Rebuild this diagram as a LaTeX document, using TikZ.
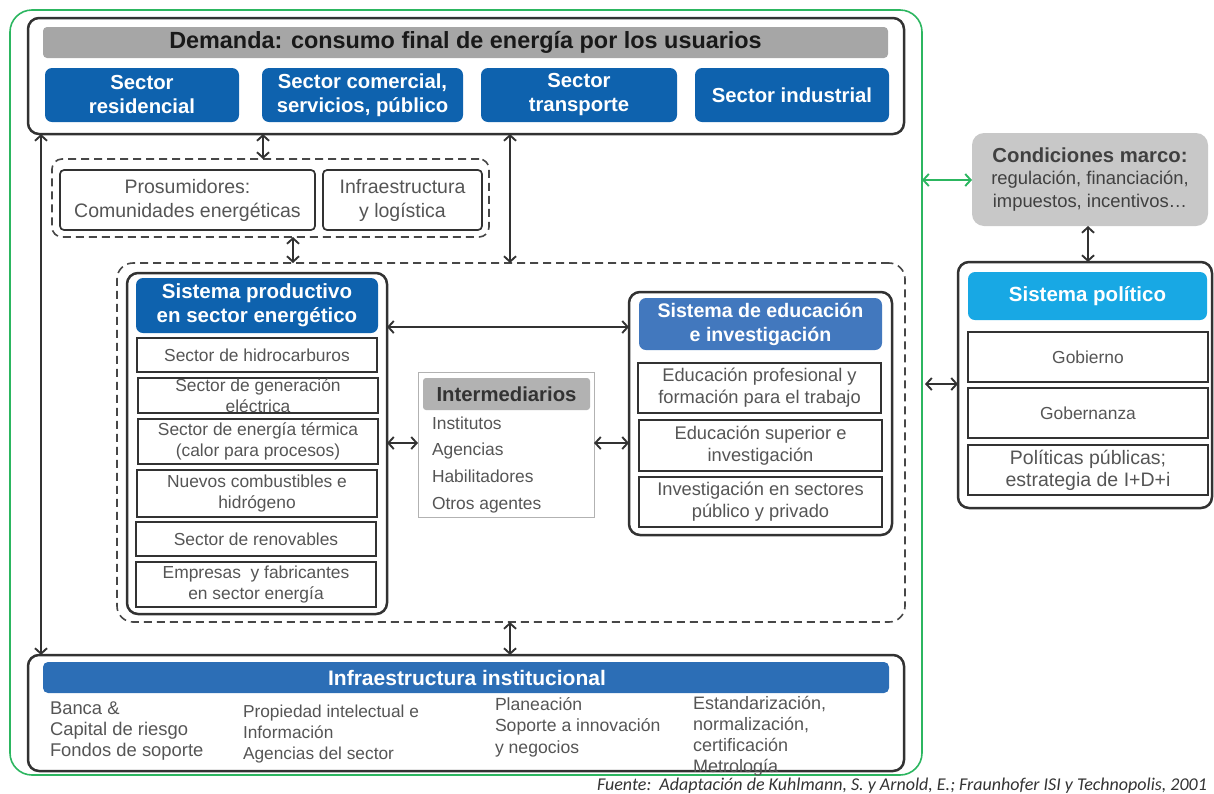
\documentclass[tikz,border=0pt]{standalone}
\usepackage{fontspec}
\setmainfont{Liberation Sans}
\newfontfamily\notefont{Carlito}
\usetikzlibrary{arrows.meta}
\definecolor{secblue}{RGB}{14,98,174}
\definecolor{eduhdr}{RGB}{66,120,190}
\definecolor{polhdr}{RGB}{24,168,228}
\definecolor{infbar}{RGB}{44,110,182}
\definecolor{barg}{RGB}{166,166,166}
\definecolor{condg}{RGB}{200,200,200}
\definecolor{interg}{RGB}{178,178,178}
\definecolor{framegreen}{RGB}{44,182,96}
\definecolor{framec}{RGB}{50,50,50}
\definecolor{itemtxt}{RGB}{85,85,85}
% node spanning the rectangle (x1,y1)-(x2,y2)
\newcommand\boxat[7]{%
  \node[#2, minimum width={(#5-#3)*1pt}, minimum height={(#6-#4)*1pt}]
    (#1) at ({(#3+#5)/2},{(#4+#6)/2}) {#7};}
\newcommand\fs[2]{\fontsize{#1}{#2}\selectfont}
\begin{document}
\begin{tikzpicture}[x=1pt,y=-1pt,
  every node/.style={inner sep=0pt, outer sep=0pt},
  frame/.style={draw=framec, line width=2.5pt, rounded corners=11pt},
  dashframe/.style={draw=framec!90, line width=1.6pt, rounded corners=16pt, dash pattern=on 8pt off 5pt},
  sector/.style={fill=secblue, rounded corners=7pt, text=white, align=center,
    font=\fs{20.3}{24}\bfseries},
  header/.style={rounded corners=7pt, text=white, align=center,
    font=\fs{20.5}{24}\bfseries},
  item/.style={draw=framec, line width=1.7pt, fill=white, text=itemtxt, align=center,
    font=\fs{17.4}{21.5}},
  plain/.style={draw=framec, line width=1.7pt, rounded corners=4pt, fill=white, text=itemtxt, align=center,
    font=\fs{19.5}{24}},
  % multi-line lists, placed by the baseline of their last line
  listtxt/.style={anchor=base west, align=left, text=itemtxt},
  arr/.style={{Straight Barb[length=5.5pt,width=12pt]}-{Straight Barb[length=5.5pt,width=12pt]},
    draw=framec, line width=1.9pt},
  garr/.style={{Straight Barb[length=5.5pt,width=12pt]}-{Straight Barb[length=5.5pt,width=12pt]},
    draw=framegreen, line width=1.9pt}]
\useasboundingbox (0,0) rectangle (1214,793);

% ---------- outer frame of the national system ----------
\boxat{system}{draw=framegreen, line width=1.6pt, rounded corners=22pt}{10}{10}{922}{775}{}

% ---------- demand ----------
\boxat{demand}{frame}{28}{18}{904}{134}{}
\boxat{demhdr}{fill=barg, rounded corners=4pt, text=black!90,
  font=\fs{23.4}{26}\bfseries}{43}{27}{888}{58}{Demanda: consumo final de energía por los usuarios}
\boxat{res}{sector}{45}{68}{239}{122}{Sector\\residencial}
\boxat{com}{sector}{262}{68}{463}{122}{Sector comercial,\\servicios, público}
\boxat{tra}{sector}{481}{68}{677}{122}{Sector\\transporte}
\boxat{ind}{sector}{695}{68}{889}{122}{Sector industrial}

% ---------- prosumers and logistics ----------
\boxat{dashA}{dashframe, rounded corners=10pt}{52}{159}{489}{237}{}
\boxat{pros}{plain}{60}{170}{315}{230}{Prosumidores:\\Comunidades energéticas}
\boxat{logi}{plain}{323}{170}{482}{230}{Infraestructura\\y logística}

% ---------- core systems ----------
\boxat{dashB}{dashframe}{117}{263}{905}{622}{}

\boxat{prod}{frame, fill=white}{127}{273}{387}{614}{}
\boxat{prodhdr}{header, fill=secblue}{136}{278}{378}{333}{Sistema productivo\\en sector energético}
\boxat{p1}{item}{137}{338}{377}{372}{Sector de hidrocarburos}
\boxat{p2}{item}{138}{378}{378}{413}{Sector de generación\\eléctrica}
\boxat{p3}{item}{138}{419}{378}{464}{Sector de energía térmica\\(calor para procesos)}
\boxat{p4}{item}{137}{470}{377}{517}{Nuevos combustibles e\\hidrógeno}
\boxat{p5}{item}{136}{522}{376}{556}{Sector de renovables}
\boxat{p6}{item}{136}{562}{376}{607}{Empresas\ \ y fabricantes\\en sector energía}

\boxat{inter}{draw=black!30, line width=1pt, fill=white}{418}{372}{594}{517}{}
\boxat{interhdr}{fill=interg, rounded corners=3pt, text=black!80,
  font=\fs{20.3}{22}\bfseries}{423}{378}{590}{410}{Intermediarios}
\node[listtxt, font=\fs{17.4}{26.8}] (interlist) at (432,509.5)
  {Institutos\\Agencias\\Habilitadores\\Otros agentes};

\boxat{edu}{frame, fill=white}{629}{292}{892}{535}{}
\boxat{eduhdr}{header, fill=eduhdr, font=\fs{19.6}{24}\bfseries}{639}{298}{882}{350}{Sistema de educación\\e investigación}
\boxat{e1}{item, font=\fs{18.3}{22}}{638}{363}{881}{413}{Educación profesional y\\formación para el trabajo}
\boxat{e2}{item, font=\fs{18.3}{22}}{639}{420}{882}{471}{Educación superior e\\investigación}
\boxat{e3}{item, font=\fs{18.3}{22}}{639}{477}{882}{527}{Investigación en sectores\\público y privado}

% ---------- institutional infrastructure ----------
\boxat{infra}{frame}{28}{655}{904}{771}{}
\boxat{infbar}{fill=infbar, rounded corners=5pt}{43}{662}{889}{693}{}
\node[text=white, font=\fs{21}{24}\bfseries] (inftitle) at (467,678) {Infraestructura institucional};
\node[listtxt, font=\fs{18.4}{21}] (col1) at (50,756) {Banca \&\\Capital de riesgo\\Fondos de soporte};
\node[listtxt, font=\fs{17.3}{21}] (col2) at (243,759) {Propiedad intelectual e\\Información\\Agencias del sector};
\node[listtxt, font=\fs{17.6}{21.5}] (col3) at (495,753) {Planeación\\Soporte a innovación\\y negocios};
\node[listtxt, font=\fs{18}{21}] (col4) at (693,772) {Estandarización,\\normalización,\\certificación\\Metrología};

% ---------- framework conditions and political system ----------
\boxat{cond}{fill=condg, rounded corners=12pt, align=center, text=black!75,
  font=\fs{18.4}{22.5}}{972}{133}{1208}{226}%
  {{\fs{20.3}{22.5}\bfseries Condiciones marco:}\\regulación, financiación,\\impuestos, incentivos…}
\boxat{pol}{frame, fill=white}{958}{262}{1212}{508}{}
\boxat{polhdr}{header, fill=polhdr}{968}{272}{1207}{320}{Sistema político}
\boxat{g1}{item}{968}{332}{1208}{382}{Gobierno}
\boxat{g2}{item}{968}{388}{1208}{438}{Gobernanza}
\boxat{g3}{item, font=\fs{19.5}{22}}{968}{445}{1208}{495}{Políticas públicas;\\estrategia de I+D+i}

% ---------- source note ----------
\node[anchor=base east, text=black!80, font=\notefont\itshape\fs{18}{20}] (note) at (1207,790)
  {Fuente:\ \ Adaptación de Kuhlmann, S. y Arnold, E.; Fraunhofer ISI y Technopolis, 2001};

% ---------- connectors ----------
\coordinate (xl) at (41,0);
\coordinate (xa) at (263,0);
\coordinate (xb) at (293,0);
\coordinate (xc) at (510,0);
\coordinate (xd) at (1088,0);
\coordinate (ya) at (0,327);
\coordinate (yb) at (0,443);
\coordinate (yc) at (0,384);
\coordinate (yg) at (0,180);
\coordinate (gl) at (925,384);

\draw[arr] (xl |- demand.south) -- (xl |- infra.north);
\draw[arr] (xa |- demand.south) -- (xa |- dashA.north);
\draw[arr] (xb |- dashA.south) -- (xb |- dashB.north);
\draw[arr] (xc |- demand.south) -- (xc |- dashB.north);
\draw[arr] (xc |- dashB.south) -- (xc |- infra.north);
\draw[arr] (prod.east |- ya) -- (edu.west |- ya);
\draw[arr] (prod.east |- yb) -- (inter.west |- yb);
\draw[arr] (inter.east |- yb) -- (edu.west |- yb);
\draw[arr] (xd |- cond.south) -- (xd |- pol.north);
\draw[arr] (gl) -- (pol.west |- yc);
\draw[garr] (system.east |- yg) -- (cond.west |- yg);
\end{tikzpicture}
\end{document}
